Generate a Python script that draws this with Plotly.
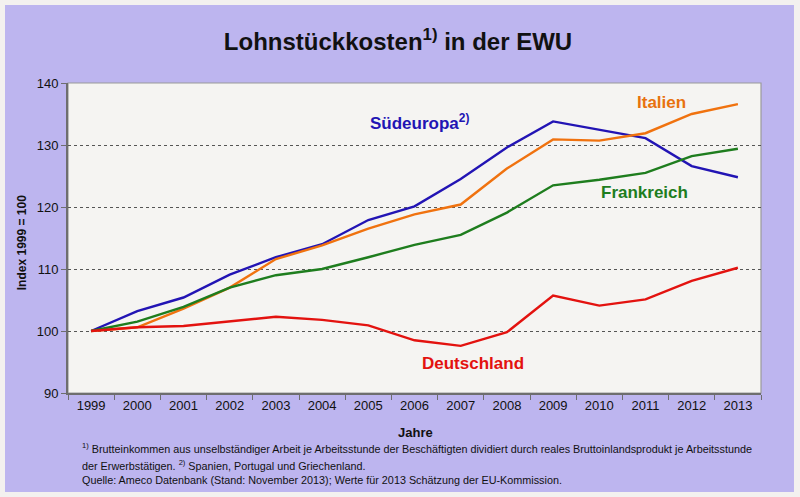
import plotly.graph_objects as go

years = ["1999", "2000", "2001", "2002", "2003", "2004", "2005", "2006",
         "2007", "2008", "2009", "2010", "2011", "2012", "2013"]
suedeuropa = [100, 103.2, 105.4, 109.1, 111.9, 114.0, 117.9, 120.1, 124.5, 129.6, 133.8, 132.4, 131.1, 126.6, 124.8]
italien = [100, 100.6, 103.6, 107.0, 111.6, 113.8, 116.5, 118.8, 120.4, 126.2, 130.9, 130.7, 131.9, 135.0, 136.6]
frankreich = [100, 101.5, 103.9, 107.0, 109.0, 110.0, 111.9, 113.9, 115.5, 119.1, 123.5, 124.4, 125.5, 128.2, 129.4]
deutschland = [100, 100.6, 100.8, 101.5, 102.3, 101.8, 100.9, 98.5, 97.6, 99.8, 105.7, 104.1, 105.1, 108.1, 110.2]
y_ticks = [90, 100, 110, 120, 130, 140]

series = [
    ("Südeuropa", suedeuropa, "#2214B4"),
    ("Italien", italien, "#F0720F"),
    ("Frankreich", frankreich, "#1E7D1E"),
    ("Deutschland", deutschland, "#E3120F"),
]

fig = go.Figure()
for name, vals, col in series:
    fig.add_trace(go.Scatter(x=years, y=vals, mode="lines", name=name,
                             line=dict(color=col, width=2.4), showlegend=False))

FONT = "Liberation Sans, Arial, sans-serif"

fig.update_layout(
    width=800, height=497,
    margin=dict(l=68, r=39, t=83, b=104),
    paper_bgcolor="#F3F1EF",
    plot_bgcolor="rgba(0,0,0,0)",
    title=dict(text="<b>Lohnstückkosten<sup>1)</sup> in der EWU</b>",
               x=0.4975, xanchor="center", y=1 - 42 / 497, yanchor="middle",
               font=dict(family=FONT, size=24, color="#111111")),
    shapes=[
        dict(type="rect", xref="paper", yref="paper", x0=-0.0909, x1=1.0476,
             y0=-0.3194, y1=1.2516, fillcolor="#BDB5EF", line=dict(width=0), layer="below"),
        dict(type="rect", xref="paper", yref="paper", x0=0, x1=1, y0=0, y1=1,
             fillcolor="#F5F4F2", line=dict(color="#9A9A9A", width=1.2), layer="below"),
    ],
)

fig.update_xaxes(
    type="category", range=[-0.5, 14.5],
    tickson="boundaries", ticks="outside", ticklen=5, tickcolor="#6E6E6E",
    showline=True, linecolor="#6E6E6E", linewidth=1.5,
    showgrid=False, tickfont=dict(family=FONT, size=13, color="#111111"),
)
fig.update_yaxes(
    range=[90, 140], tickvals=y_ticks, ticks="outside", ticklen=5, tickcolor="#6E6E6E",
    showline=True, linecolor="#6E6E6E", linewidth=2,
    showgrid=True, gridcolor="#555555", griddash="dot", gridwidth=1,
    zeroline=False, tickfont=dict(family=FONT, size=13, color="#111111"),
)

ann = [
    dict(text="<b>Südeuropa<sup>2)</sup></b>", x=7.1, y=133.7, xref="x", yref="y",
         font=dict(family=FONT, size=17, color="#2214B4")),
    dict(text="<b>Italien</b>", x=12.34, y=136.8, xref="x", yref="y",
         font=dict(family=FONT, size=17, color="#E8720F")),
    dict(text="<b>Frankreich</b>", x=11.97, y=122.3, xref="x", yref="y",
         font=dict(family=FONT, size=17, color="#1E7D1E")),
    dict(text="<b>Deutschland</b>", x=8.26, y=94.8, xref="x", yref="y",
         font=dict(family=FONT, size=17, color="#E3120F")),
    dict(text="<b>Index 1999 = 100</b>", x=-0.066, y=0.484, xref="paper", yref="paper",
         textangle=-90, font=dict(family=FONT, size=12, color="#111111")),
    dict(text="<b>Jahre</b>", x=0.502, y=-0.126, xref="paper", yref="paper",
         font=dict(family=FONT, size=13, color="#111111")),
    dict(text="<sup>1)</sup> Brutteinkommen aus unselbständiger Arbeit je Arbeitsstunde der Beschäftigten dividiert durch reales Bruttoinlandsprodukt je Arbeitsstunde",
         x=0.0173, y=-0.177, xref="paper", yref="paper", xanchor="left",
         font=dict(family=FONT, size=10.8, color="#111111")),
    dict(text="der Erwerbstätigen. <sup>2)</sup> Spanien, Portugal und Griechenland.",
         x=0.0173, y=-0.232, xref="paper", yref="paper", xanchor="left",
         font=dict(family=FONT, size=10.8, color="#111111")),
    dict(text="Quelle: Ameco Datenbank (Stand: November 2013); Werte für 2013 Schätzung der EU-Kommission.",
         x=0.0173, y=-0.281, xref="paper", yref="paper", xanchor="left",
         font=dict(family=FONT, size=10.8, color="#111111")),
]
for a in ann:
    a.setdefault("showarrow", False)
    a.setdefault("xanchor", "center")
    a.setdefault("yanchor", "middle")
fig.update_layout(annotations=ann)

fig.write_html("out.html", config={"displayModeBar": False},
               post_script="document.body.style.margin='0';")
